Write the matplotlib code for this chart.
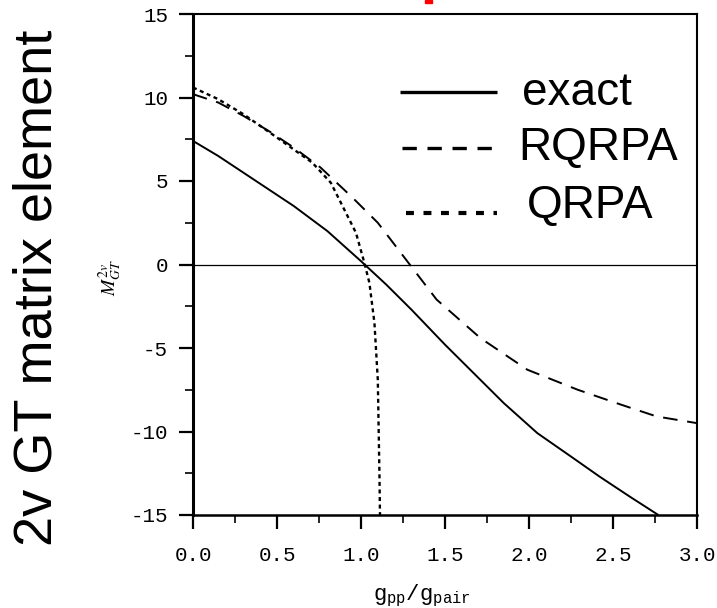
import matplotlib
matplotlib.use("Agg")
import matplotlib.pyplot as plt
from matplotlib.patches import Rectangle
from matplotlib.ticker import MultipleLocator

plt.rcParams['mathtext.fontset'] = 'custom'
plt.rcParams['mathtext.rm'] = 'Liberation Mono'
plt.rcParams['mathtext.it'] = 'Liberation Mono'

# data
exact_x = [0.0, 0.15, 0.3, 0.45, 0.6, 0.8, 1.0, 1.15, 1.3, 1.5, 1.65, 1.85, 2.05, 2.25, 2.42, 2.6, 2.77]
exact_y = [7.4, 6.5, 5.5, 4.5, 3.5, 2.0, 0.2, -1.2, -2.7, -4.8, -6.3, -8.3, -10.1, -11.5, -12.7, -13.9, -15.0]

rqrpa_x = [0.0, 0.15, 0.3, 0.45, 0.6, 0.76, 0.95, 1.1, 1.29, 1.45, 1.71, 1.99, 2.29, 2.55, 2.76, 3.0]
rqrpa_y = [10.2, 9.7, 8.9, 8.0, 7.0, 5.8, 4.0, 2.5, 0.0, -2.1, -4.4, -6.3, -7.5, -8.4, -9.1, -9.5]

qrpa_x = [0.0, 0.15, 0.3, 0.5, 0.71, 0.82, 0.89, 0.97, 1.02, 1.05, 1.08, 1.10, 1.11, 1.113]
qrpa_y = [10.6, 9.9, 9.0, 7.6, 6.1, 4.9, 3.5, 1.9, 0.1, -1.1, -3.5, -6.9, -12.7, -15.0]

xticks = [0.0, 0.5, 1.0, 1.5, 2.0, 2.5, 3.0]
yticks = [15, 10, 5, 0, -5, -10, -15]
legend_labels = ["exact", "RQRPA", "QRPA"]

fig = plt.figure(figsize=(7.17, 6.08), dpi=100)
ax = fig.add_axes([193/717, 1-515/608, (697-193)/717, (515-14)/608])

ax.axhline(0, color='black', lw=0.9)
ax.plot(exact_x, exact_y, color='black', lw=1.4, solid_capstyle='butt')
ax.plot(rqrpa_x, rqrpa_y, color='black', lw=1.4, dashes=(7.5, 5))
ax.plot(qrpa_x, qrpa_y, color='black', lw=1.7, dashes=(1.7, 1.5))

ax.set_xlim(0, 3.0)
ax.set_ylim(-15, 15)
ax.set_xticks(xticks)
ax.set_xticklabels([f"{v:.1f}" for v in xticks])
ax.set_yticks(yticks)
ax.set_yticklabels([str(v) for v in yticks])
ax.xaxis.set_minor_locator(MultipleLocator(0.25))
ax.yaxis.set_minor_locator(MultipleLocator(2.5))
ax.tick_params(axis='both', which='major', direction='out', length=10, width=1.6,
               labelsize=15, top=False, right=False)
ax.tick_params(axis='both', which='minor', direction='out', length=6, width=1.2,
               top=False, right=False)
ax.tick_params(axis='x', which='major', pad=12)
ax.tick_params(axis='y', which='major', pad=8)
for lab in ax.get_xticklabels() + ax.get_yticklabels():
    lab.set_fontfamily('Liberation Mono')

ax.spines['left'].set_linewidth(2.2)
ax.spines['bottom'].set_linewidth(1.8)
ax.spines['top'].set_linewidth(1.5)
ax.spines['right'].set_linewidth(1.5)

# legend drawn manually
ly = [0.844, 0.733, 0.603]
ax.plot([0.41, 0.603], [ly[0], ly[0]], transform=ax.transAxes, color='black', lw=2.4,
        solid_capstyle='butt')
ax.plot([0.415, 0.603], [ly[1], ly[1]], transform=ax.transAxes, color='black', lw=2.4,
        dashes=(4.3, 3.2))
ax.plot([0.422, 0.603], [ly[2], ly[2]], transform=ax.transAxes, color='black', lw=3.0,
        dashes=(1.9, 2.3))
tx = [0.652, 0.646, 0.663]
tyb = [0.818, 0.709, 0.593]
for x, y, s in zip(tx, tyb, legend_labels):
    ax.text(x, y, s, transform=ax.transAxes, fontsize=33, family='Liberation Sans',
            ha='left', va='baseline')

# axis labels
fig.text(422/717, 1-596/608, r'$\mathrm{g_{pp}/g_{pair}}$', fontsize=16,
         ha='center', va='center')
fig.text(110/717, 1-277/608, r'$M_{GT}^{2v}$', fontsize=14, rotation=90,
         ha='center', va='center', math_fontfamily='stix')
fig.text(38/717, 1-288/608, '2v GT matrix element', fontsize=39, rotation=90,
         family='Liberation Sans', ha='center', va='center')

# red mark at top (cut-off title)
fig.patches.append(Rectangle((425/717, 1-3/608), 7/717, 3/608, transform=fig.transFigure,
                             color='red', figure=fig))

fig.savefig('out.png', dpi=100)
